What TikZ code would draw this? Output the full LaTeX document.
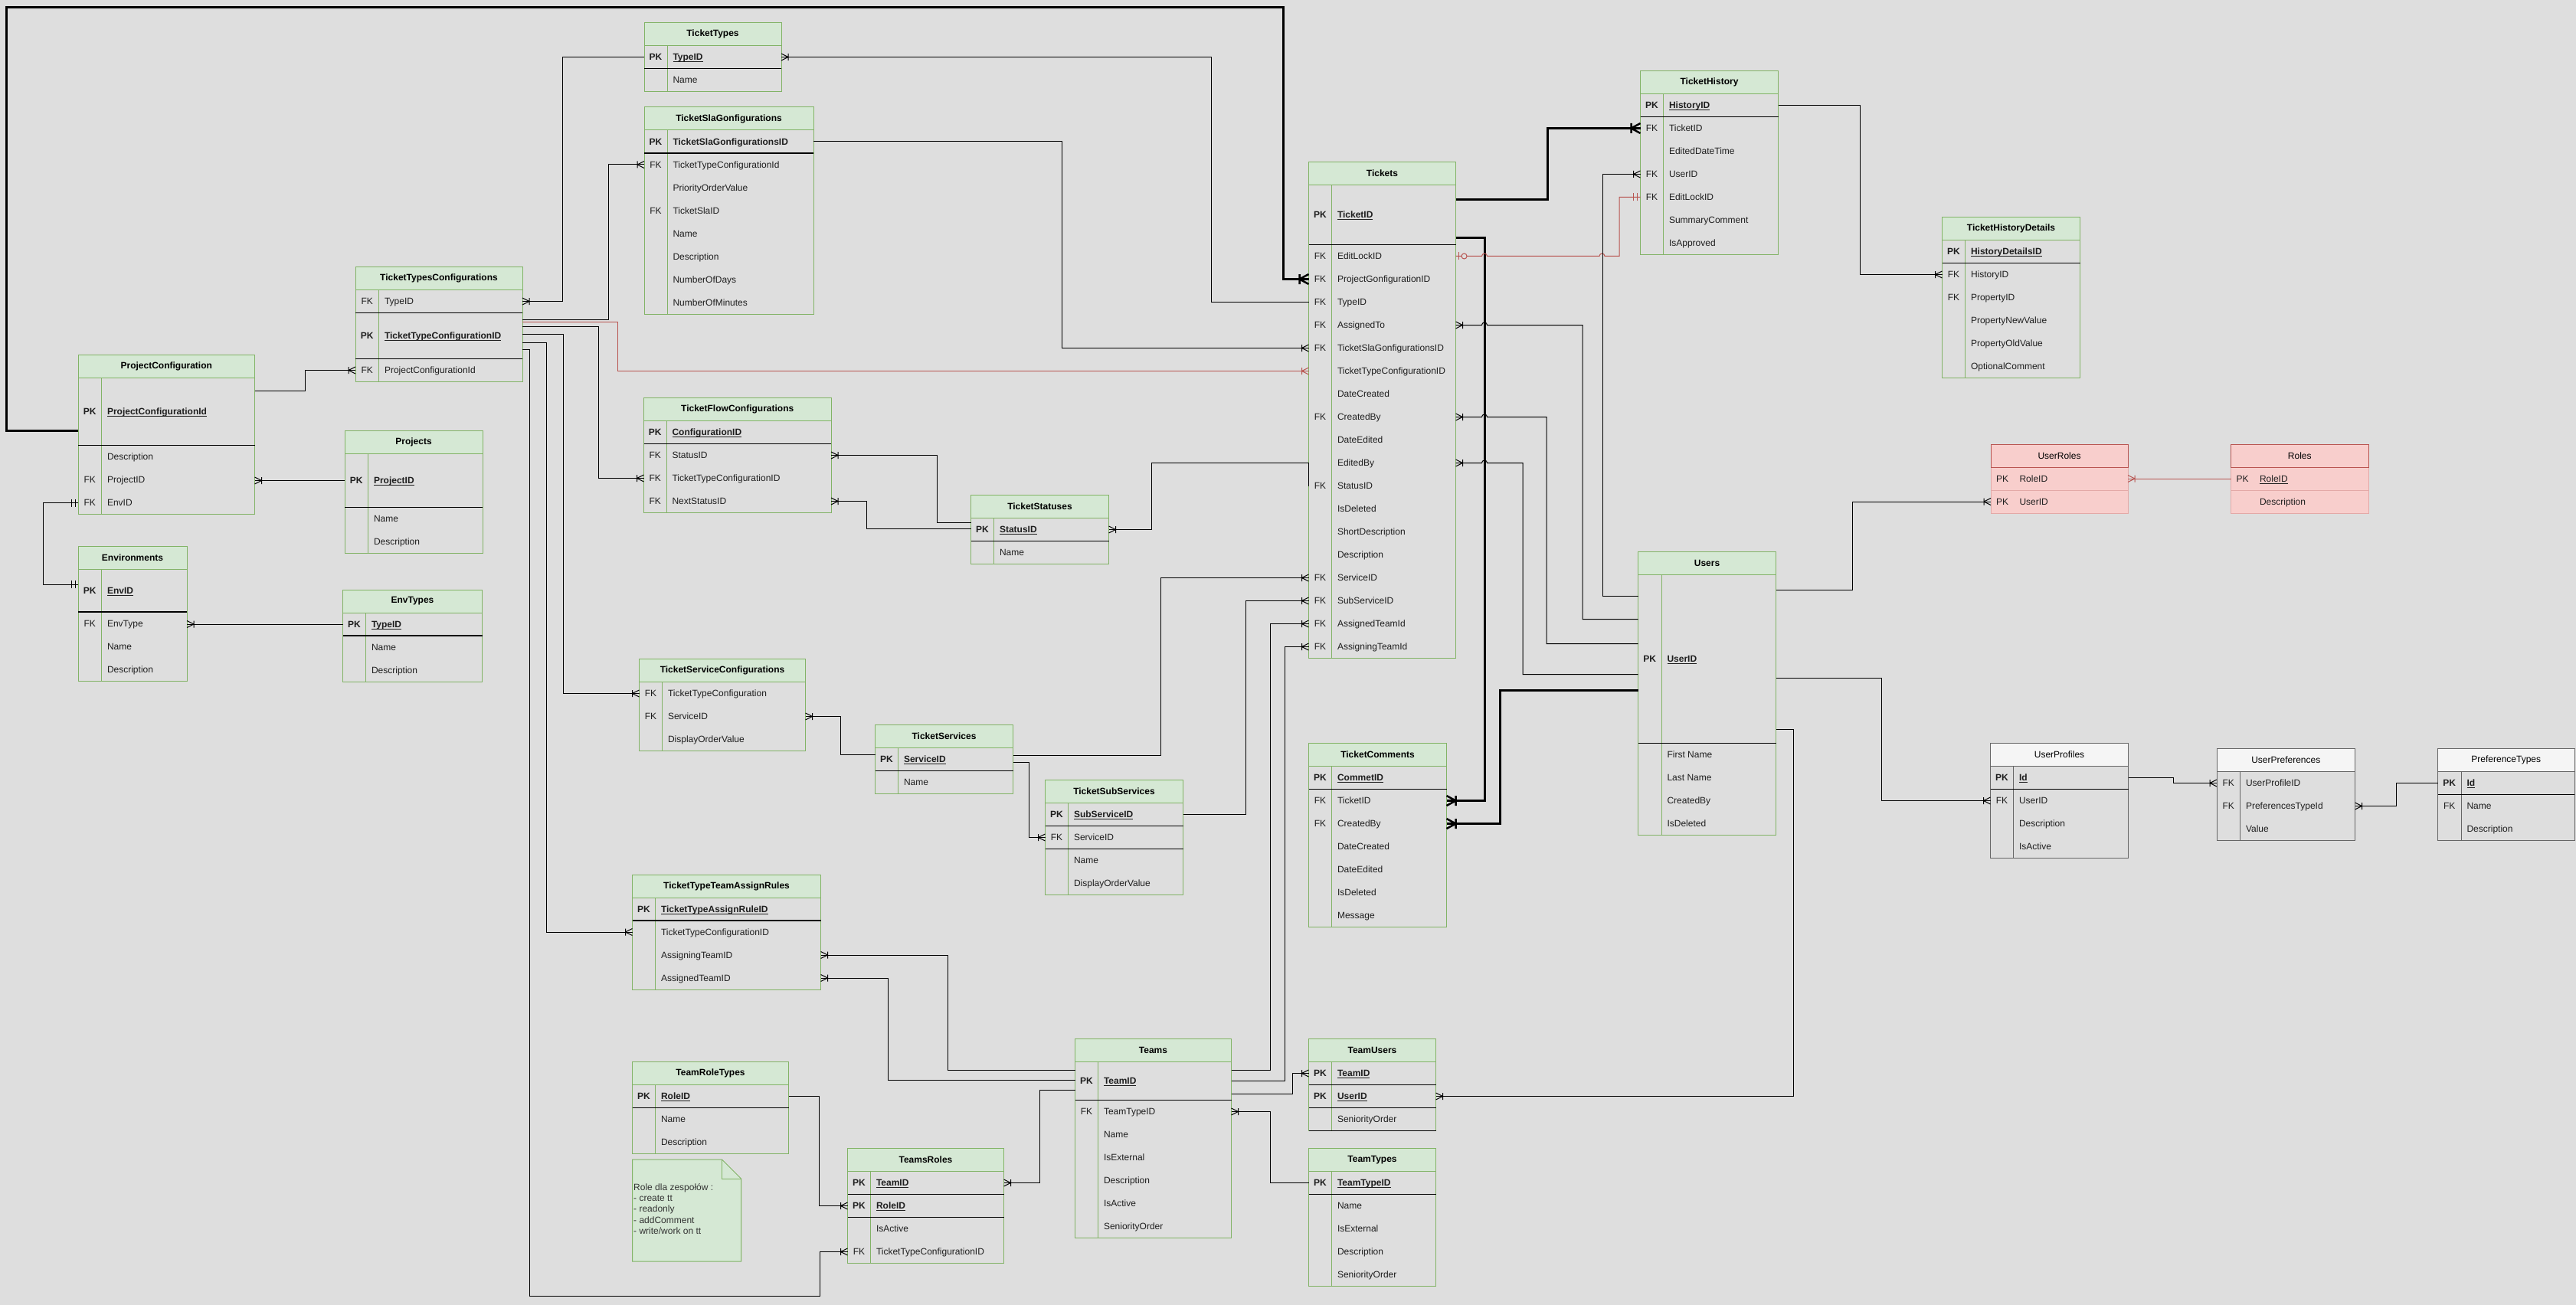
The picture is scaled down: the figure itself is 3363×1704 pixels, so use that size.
\documentclass[tikz,border=0pt]{standalone}
\usepackage{fontspec}
\setmainfont{Liberation Sans}
\usetikzlibrary{calc,decorations.markings}

\definecolor{bg}{HTML}{DEDEDE}
\definecolor{gfill}{HTML}{D5E8D4}
\definecolor{gline}{HTML}{82B366}
\definecolor{rfill}{HTML}{F8CECC}
\definecolor{rline}{HTML}{B85450}
\definecolor{rsoft}{HTML}{E3A9A7}
\definecolor{wfill}{HTML}{F5F5F5}
\definecolor{wline}{HTML}{666666}
\definecolor{txt}{HTML}{1E1E1E}
\definecolor{notetxt}{HTML}{333333}
\colorlet{hd}{gfill}
\colorlet{ln}{gline}

\newcommand\rf{\fontsize{12pt}{14pt}\selectfont}
\def\tfont{\bfseries}
% underline drawn just below the baseline
\newcommand\uln[1]{\setbox0\hbox{#1}\rlap{\vrule width\wd0 height -1.3pt depth 2.1pt}\box0}

% connector end marks (local frame: entity edge at the origin, line arriving from -x)
\newcommand\crowmark[1]{\draw[#1] (-9pt,0pt) -- (0pt,4.5pt) (-9pt,0pt) -- (0pt,-4.5pt) (-9pt,-4.5pt) -- (-9pt,4.5pt);}
\newcommand\tcrowmark{\draw[black,line width=2.5pt] (-12pt,0pt) -- (0pt,6.5pt) (-12pt,0pt) -- (0pt,-6.5pt) (-12pt,-6.5pt) -- (-12pt,6.5pt);}
\newcommand\barsmark[1]{\draw[#1] (-4pt,-5pt) -- (-4pt,5pt) (-9pt,-5pt) -- (-9pt,5pt);}
\newcommand\zomark{\draw[rline,line width=1pt] (-4pt,-5pt) -- (-4pt,5pt);\draw[rline,fill=bg,line width=1pt] (-11pt,0pt) circle[radius=3.5pt];}

\tikzset{
  bodybox/.style={draw=ln, line width=1pt, rectangle, inner sep=0pt, outer sep=0pt, anchor=north west},
  titlebox/.style={draw=ln, fill=hd, line width=1pt, rectangle, inner sep=0pt, outer sep=0pt,
    anchor=north west, minimum height=30pt, font=\rf\tfont, text=black},
  rbody/.style={draw=rsoft, fill=rfill, line width=1pt, rectangle, inner sep=0pt, outer sep=0pt, anchor=north west},
  rtitle/.style={draw=rline, fill=rfill, line width=1pt, rectangle, inner sep=0pt, outer sep=0pt,
    anchor=north west, minimum height=30pt, font=\rf, text=black},
  rowbox/.style={rectangle, inner sep=0pt, outer sep=0pt, anchor=north west},
  cell/.style={inner sep=0pt, outer sep=0pt, font=\rf, text=txt, text height=9pt, text depth=0.5pt},
  divline/.style={draw=ln, line width=1pt},
  sepline/.style={draw=black, line width=1.2pt},
  softline/.style={draw=rsoft, line width=1pt},
  conn/.style={draw=black, line width=1pt},
  rconn/.style={draw=rline, line width=1pt},
  tconn/.style={draw=black, line width=3pt},
  crow end/.style={postaction={decorate,decoration={markings,mark=at position 1 with {\crowmark{#1}}}}},
  crow end/.default={black,line width=1pt},
  crow start/.style={postaction={decorate,decoration={markings,mark=at position 0 with {\begin{scope}[xscale=-1]\crowmark{#1}\end{scope}}}}},
  crow start/.default={black,line width=1pt},
  tcrow end/.style={postaction={decorate,decoration={markings,mark=at position 1 with {\tcrowmark}}}},
  bars end/.style={postaction={decorate,decoration={markings,mark=at position 1 with {\barsmark{#1}}}}},
  bars end/.default={black,line width=1pt},
  bars start/.style={postaction={decorate,decoration={markings,mark=at position 0 with {\begin{scope}[xscale=-1]\barsmark{#1}\end{scope}}}}},
  bars start/.default={black,line width=1pt},
  zo start/.style={postaction={decorate,decoration={markings,mark=at position 0 with {\begin{scope}[xscale=-1]\zomark\end{scope}}}}},
}

% table: name, x, y, width, key column width, height, title
\newcommand\etable[7]{%
  \def\tx{#2}\def\tw{#4}\def\tk{#5}\pgfmathsetmacro\ry{#3+30}%
  \node[bodybox, minimum width=#4pt, minimum height=#6pt] (#1) at (#2,#3) {};
  \node[titlebox, minimum width=#4pt] (#1-t) at (#2,#3) {#7};
  \draw[divline] ([xshift=#5pt]#1-t.south west) -- ([xshift=#5pt]#1.south west);
}
% pink table without key divider: name, x, y, width, height, title
\newcommand\rtable[6]{%
  \def\tx{#2}\def\tw{#4}\def\tk{30}\pgfmathsetmacro\ry{#3+30}%
  \node[rbody, minimum width=#4pt, minimum height=#5pt] (#1) at (#2,#3) {};
  \node[rtitle, minimum width=#4pt] (#1-t) at (#2,#3) {#6};
}
% row: name, height, key, field
\newcommand\addrow[4]{%
  \node[rowbox, minimum width=\tw pt, minimum height=#2pt] (#1) at (\tx,\ry) {};
  \node[cell] at ([xshift=\tk pt*0.5]#1.west) {#3};
  \node[cell, anchor=west] at ([xshift=\tk pt+7.5pt]#1.west) {#4};
  \pgfmathsetmacro\ry{\ry+#2}%
}
\newcommand\rsep[1]{\draw[sepline] (#1.south west) -- (#1.south east);}
\newcommand\softsep[1]{\draw[softline] (#1.south west) -- (#1.south east);}
\newcommand\rw[3]{\addrow{#1}{30}{#2}{#3}}
\newcommand\pk[3][30]{\addrow{#2}{#1}{\textbf{PK}}{\textbf{\uln{#3}}}\rsep{#2}}

\begin{document}
\begin{tikzpicture}[x=1pt,y=-1pt]
\useasboundingbox (0,0) rectangle (3363,1704);
\fill[bg] (0,0) rectangle (3363,1704);

% ---------------- tables ----------------
\etable{tt}{841}{29.5}{179}{30}{90}{TicketTypes}
\pk{tt-id}{TypeID}
\rw{tt-name}{}{Name}

\etable{tsc}{841}{140}{221}{30}{270}{TicketSlaGonfigurations}
\addrow{tsc-id}{30}{\textbf{PK}}{\textbf{TicketSlaGonfigurationsID}}\rsep{tsc-id}
\rw{tsc-ttc}{FK}{TicketTypeConfigurationId}
\rw{tsc-prio}{}{PriorityOrderValue}
\rw{tsc-sla}{FK}{TicketSlaID}
\rw{tsc-name}{}{Name}
\rw{tsc-desc}{}{Description}
\rw{tsc-days}{}{NumberOfDays}
\rw{tsc-min}{}{NumberOfMinutes}

\etable{ttc}{464}{348.5}{218}{30.5}{150}{TicketTypesConfigurations}
\rw{ttc-type}{FK}{TypeID}\rsep{ttc-type}
\pk[60]{ttc-id}{TicketTypeConfigurationID}
\rw{ttc-pc}{FK}{ProjectConfigurationId}

\etable{pc}{102}{463.5}{230.5}{30.5}{208}{ProjectConfiguration}
\pk[88]{pc-id}{ProjectConfigurationId}
\rw{pc-desc}{}{Description}
\rw{pc-proj}{FK}{ProjectID}
\rw{pc-env}{FK}{EnvID}

\etable{pr}{450}{562.5}{180}{30.5}{160}{Projects}
\pk[70]{pr-id}{ProjectID}
\rw{pr-name}{}{Name}
\rw{pr-desc}{}{Description}

\etable{env}{102}{713}{142}{30.5}{176}{Environments}
\pk[56]{env-id}{EnvID}
\rw{env-type}{FK}{EnvType}
\rw{env-name}{}{Name}
\rw{env-desc}{}{Description}

\etable{et}{447.5}{770}{182}{30}{120}{EnvTypes}
\pk{et-id}{TypeID}
\rw{et-name}{}{Name}
\rw{et-desc}{}{Description}

\etable{tfc}{840.5}{519.5}{244.5}{29.5}{150}{TicketFlowConfigurations}
\pk{tfc-id}{ConfigurationID}
\rw{tfc-status}{FK}{StatusID}
\rw{tfc-ttc}{FK}{TicketTypeConfigurationID}
\rw{tfc-next}{FK}{NextStatusID}

\etable{ts}{1267.5}{646.5}{180}{30}{90}{TicketStatuses}
\pk{ts-id}{StatusID}
\rw{ts-name}{}{Name}

\etable{tsv}{834.5}{860.5}{217}{30}{120}{TicketServiceConfigurations}
\rw{tsv-ttc}{FK}{TicketTypeConfiguration}
\rw{tsv-svc}{FK}{ServiceID}
\rw{tsv-order}{}{DisplayOrderValue}

\etable{svc}{1142.5}{946.5}{180}{30}{90}{TicketServices}
\pk{svc-id}{ServiceID}
\rw{svc-name}{}{Name}

\etable{sub}{1364.5}{1018.5}{180}{30}{150}{TicketSubServices}
\pk{sub-id}{SubServiceID}
\rw{sub-svc}{FK}{ServiceID}\rsep{sub-svc}
\rw{sub-name}{}{Name}
\rw{sub-order}{}{DisplayOrderValue}

\etable{ar}{825.5}{1142}{246}{30}{150}{TicketTypeTeamAssignRules}
\pk{ar-id}{TicketTypeAssignRuleID}
\rw{ar-ttc}{}{TicketTypeConfigurationID}
\rw{ar-asg}{}{AssigningTeamID}
\rw{ar-asd}{}{AssignedTeamID}

\etable{trt}{825.5}{1386.5}{204}{30}{120}{TeamRoleTypes}
\pk{trt-id}{RoleID}
\rw{trt-name}{}{Name}
\rw{trt-desc}{}{Description}

\etable{tr}{1106.5}{1499.5}{204}{30}{150}{TeamsRoles}
\pk{tr-team}{TeamID}
\pk{tr-role}{RoleID}
\rw{tr-active}{}{IsActive}
\rw{tr-ttc}{FK}{TicketTypeConfigurationID}

\etable{tm}{1403.5}{1356.5}{204}{30}{260}{Teams}
\pk[50]{tm-id}{TeamID}
\rw{tm-type}{FK}{TeamTypeID}
\rw{tm-name}{}{Name}
\rw{tm-ext}{}{IsExternal}
\rw{tm-desc}{}{Description}
\rw{tm-active}{}{IsActive}
\rw{tm-sen}{}{SeniorityOrder}

\etable{tu}{1708.5}{1356.5}{166}{30}{120}{TeamUsers}
\pk{tu-team}{TeamID}
\pk{tu-user}{UserID}
\rw{tu-sen}{}{SeniorityOrder}\rsep{tu-sen}

\etable{ty}{1708.5}{1499.5}{166}{30}{180}{TeamTypes}
\pk{ty-id}{TeamTypeID}
\rw{ty-name}{}{Name}
\rw{ty-ext}{}{IsExternal}
\rw{ty-desc}{}{Description}
\rw{ty-sen}{}{SeniorityOrder}

\etable{tk}{1708.5}{211.5}{192}{30}{648}{Tickets}
\pk[78]{tk-id}{TicketID}
\rw{tk-lock}{FK}{EditLockID}
\rw{tk-pc}{FK}{ProjectGonfigurationID}
\rw{tk-type}{FK}{TypeID}
\rw{tk-asg}{FK}{AssignedTo}
\rw{tk-sla}{FK}{TicketSlaGonfigurationsID}
\rw{tk-ttc}{}{TicketTypeConfigurationID}
\rw{tk-dc}{}{DateCreated}
\rw{tk-cb}{FK}{CreatedBy}
\rw{tk-de}{}{DateEdited}
\rw{tk-eb}{}{EditedBy}
\rw{tk-status}{FK}{StatusID}
\rw{tk-del}{}{IsDeleted}
\rw{tk-short}{}{ShortDescription}
\rw{tk-desc}{}{Description}
\rw{tk-svc}{FK}{ServiceID}
\rw{tk-sub}{FK}{SubServiceID}
\rw{tk-asd}{FK}{AssignedTeamId}
\rw{tk-asn}{FK}{AssigningTeamId}

\etable{tc}{1708.5}{970.5}{180}{30}{240}{TicketComments}
\pk{tc-id}{CommetID}
\rw{tc-tk}{FK}{TicketID}
\rw{tc-cb}{FK}{CreatedBy}
\rw{tc-dc}{}{DateCreated}
\rw{tc-de}{}{DateEdited}
\rw{tc-del}{}{IsDeleted}
\rw{tc-msg}{}{Message}

\etable{th}{2141.5}{92.5}{180}{30}{240}{TicketHistory}
\pk{th-id}{HistoryID}
\rw{th-tk}{FK}{TicketID}
\rw{th-edt}{}{EditedDateTime}
\rw{th-user}{FK}{UserID}
\rw{th-lock}{FK}{EditLockID}
\rw{th-sum}{}{SummaryComment}
\rw{th-appr}{}{IsApproved}

\etable{thd}{2535.5}{283.5}{180}{30}{210}{TicketHistoryDetails}
\pk{thd-id}{HistoryDetailsID}
\rw{thd-hist}{FK}{HistoryID}
\rw{thd-prop}{FK}{PropertyID}
\rw{thd-new}{}{PropertyNewValue}
\rw{thd-old}{}{PropertyOldValue}
\rw{thd-com}{}{OptionalComment}

\etable{us}{2138.5}{720.5}{180}{30.5}{370}{Users}
\pk[220]{us-id}{UserID}
\rw{us-fn}{}{First Name}
\rw{us-ln}{}{Last Name}
\rw{us-cb}{}{CreatedBy}
\rw{us-del}{}{IsDeleted}

% pink role tables
\rtable{ur}{2599}{580}{179}{90}{UserRoles}
\addrow{ur-role}{30}{PK}{RoleID}\softsep{ur-role}
\addrow{ur-user}{30}{PK}{UserID}
\rtable{ro}{2912.5}{580}{179.5}{90}{Roles}
\addrow{ro-id}{30}{PK}{\uln{RoleID}}\softsep{ro-id}
\rw{ro-desc}{}{Description}

% grey profile tables
\colorlet{hd}{wfill}\colorlet{ln}{wline}\def\tfont{}
\etable{up}{2598.5}{970.5}{180}{30}{150}{UserProfiles}
\pk{up-id}{Id}
\rw{up-user}{FK}{UserID}
\rw{up-desc}{}{Description}
\rw{up-active}{}{IsActive}

\etable{upr}{2894}{977.5}{180.5}{30.5}{120}{UserPreferences}
\rw{upr-prof}{FK}{UserProfileID}
\rw{upr-type}{FK}{PreferencesTypeId}
\rw{upr-val}{}{Value}

\etable{pt}{3182.5}{977.5}{178.5}{30.5}{120}{PreferenceTypes}
\pk{pt-id}{Id}
\rw{pt-name}{FK}{Name}
\rw{pt-desc}{}{Description}

% note with folded corner
\draw[draw=gline, fill=gfill, line width=1pt] (825.5,1514) -- (942.5,1514) -- (967.5,1539) -- (967.5,1647) -- (825.5,1647) -- cycle;
\draw[draw=gline, line width=1pt] (942.5,1514) -- (942.5,1539) -- (967.5,1539);
\node[anchor=north west, inner sep=0pt, align=left, text=notetxt,
  font=\fontsize{12pt}{14.2pt}\selectfont] (note) at (827,1545.5)
  {Role dla zespołów :\\- create tt\\- readonly\\- addComment\\- write/work on tt};

% ---------------- routing guides ----------------
\foreach \v in {8,56,398,691,713,734,735,781,794,806,1069,1097,1131,1159,1223,1237,1343,1357,1386,1503,1515,1581,1626,1658,1675,1677,1687,1938,1958,1988,2019,2020,2066,2092,2114,2341,2418,2428,2456,2837,3128}
  {\coordinate (vx\v) at (\v,0);}
\coordinate (hop) at (1934.5,0);
\coordinate (hop2) at (2088,0);
\coordinate (hy10) at (0,10);
\coordinate (bend1) at (691,1692);
\coordinate (bend2) at (1070,1692);

\coordinate (ttc-o1) at ($(ttc-id.east)+(0,-21.5)$);
\coordinate (ttc-o2) at ($(ttc-id.east)+(0,-18.5)$);
\coordinate (ttc-o3) at ($(ttc-id.east)+(0,-12.5)$);
\coordinate (ttc-o4) at ($(ttc-id.east)+(0,-2)$);
\coordinate (ttc-o5) at ($(ttc-id.east)+(0,8.5)$);
\coordinate (ttc-o6) at ($(ttc-id.east)+(0,17.5)$);
\coordinate (pc-o1) at ($(pc-id.east)+(0,-27)$);
\coordinate (pc-o2) at ($(pc-id.west)+(0,25)$);
\coordinate (env-o) at ($(env-id.west)+(0,-8)$);
\coordinate (ts-o1) at ($(ts-id.west)+(0,-9.5)$);
\coordinate (ts-o2) at ($(ts-id.west)+(0,-1.5)$);
\coordinate (svc-o1) at ($(svc-id.west)+(0,-6.5)$);
\coordinate (svc-o2) at ($(svc-id.east)+(0,-5.5)$);
\coordinate (svc-o3) at ($(svc-id.east)+(0,4)$);
\coordinate (tm-o1) at ($(tm-id.west)+(0,-14.5)$);
\coordinate (tm-o2) at ($(tm-id.west)+(0,-1.5)$);
\coordinate (tm-o3) at ($(tm-id.west)+(0,11.5)$);
\coordinate (tm-o4) at ($(tm-id.east)+(0,-14.5)$);
\coordinate (tm-o5) at ($(tm-id.east)+(0,16.5)$);
\coordinate (tk-o1) at ($(tk-id.east)+(0,-20)$);
\coordinate (tk-o2) at ($(tk-id.east)+(0,30)$);
\coordinate (us-o1) at ($(us-id.east)+(0,92)$);
\coordinate (us-o2) at ($(us-id.west)+(0,40.5)$);
\coordinate (us-o3) at ($(us-id.west)+(0,-82.5)$);
\coordinate (us-o4) at ($(us-id.west)+(0,-52)$);
\coordinate (us-o5) at ($(us-id.west)+(0,-20)$);
\coordinate (us-o6) at ($(us-id.west)+(0,20)$);
\coordinate (us-o7) at ($(us-id.east)+(0,-90.5)$);
\coordinate (us-o8) at ($(us-id.east)+(0,25)$);

% ---------------- relationships ----------------
\draw[conn, crow end] (tt-id.west) -- (tt-id.west -| vx734) -- (ttc-type.east -| vx734) -- (ttc-type.east);
\draw[conn, crow end] (tk-type.west) -- (tk-type.west -| vx1581) -- (tt-id.east -| vx1581) -- (tt-id.east);
\draw[conn, crow end] (tsc-id.east) -- (tsc-id.east -| vx1386) -- (tk-sla.west -| vx1386) -- (tk-sla.west);

\draw[conn, crow end] (ttc-o1) -- (ttc-o1 -| vx794) -- (tsc-ttc.west -| vx794) -- (tsc-ttc.west);
\draw[rconn, crow end={rline,line width=1pt}] (ttc-o2) -- (ttc-o2 -| vx806) -- (tk-ttc.west -| vx806) -- (tk-ttc.west);
\draw[conn, crow end] (ttc-o3) -- (ttc-o3 -| vx781) -- (tfc-ttc.west -| vx781) -- (tfc-ttc.west);
\draw[conn, crow end] (ttc-o4) -- (ttc-o4 -| vx735) -- (tsv-ttc.west -| vx735) -- (tsv-ttc.west);
\draw[conn, crow end] (ttc-o5) -- (ttc-o5 -| vx713) -- (ar-ttc.west -| vx713) -- (ar-ttc.west);
\draw[conn, crow end] (ttc-o6) -- (ttc-o6 -| vx691) -- (bend1) -- (bend2) -- (tr-ttc.west -| bend2) -- (tr-ttc.west);

\draw[conn, crow end] (pc-o1) -- (pc-o1 -| vx398) -- (ttc-pc.west -| vx398) -- (ttc-pc.west);
\draw[conn, crow end] (pr-id.west) -- (pr-id.west -| pc-proj.east);
\draw[conn, bars start, bars end] (pc-env.west) -- (pc-env.west -| vx56) -- (env-o -| vx56) -- (env-o);
\draw[tconn, tcrow end] (pc-o2) -- (pc-o2 -| vx8) -- (vx8 |- hy10) -- (vx1675 |- hy10) -- (tk-pc.west -| vx1675) -- (tk-pc.west);
\draw[conn, crow end] (et-id.west) -- (et-id.west -| env-type.east);

\draw[conn, crow end] (ts-o1) -- (ts-o1 -| vx1223) -- (tfc-status.east -| vx1223) -- (tfc-status.east);
\draw[conn, crow end] (ts-o2) -- (ts-o2 -| vx1131) -- (tfc-next.east -| vx1131) -- (tfc-next.east);
\draw[conn, crow end] (tk-status.west) -- (tk-eb.west) -- (tk-eb.west -| vx1503) -- (ts-id.east -| vx1503) -- (ts-id.east);

\draw[conn, crow end] (svc-o1) -- (svc-o1 -| vx1097) -- (tsv-svc.east -| vx1097) -- (tsv-svc.east);
\draw[conn, crow end] (svc-o2) -- (svc-o2 -| vx1515) -- (tk-svc.west -| vx1515) -- (tk-svc.west);
\draw[conn, crow end] (svc-o3) -- (svc-o3 -| vx1343) -- (sub-svc.west -| vx1343) -- (sub-svc.west);
\draw[conn, crow end] (sub-id.east) -- (sub-id.east -| vx1626) -- (tk-sub.west -| vx1626) -- (tk-sub.west);

\draw[conn, crow end] (tm-o1) -- (tm-o1 -| vx1237) -- (ar-asg.east -| vx1237) -- (ar-asg.east);
\draw[conn, crow end] (tm-o2) -- (tm-o2 -| vx1159) -- (ar-asd.east -| vx1159) -- (ar-asd.east);
\draw[conn, crow end] (tm-o3) -- (tm-o3 -| vx1357) -- (tr-team.east -| vx1357) -- (tr-team.east);
\draw[conn, crow end] (trt-id.east) -- (trt-id.east -| vx1069) -- (tr-role.west -| vx1069) -- (tr-role.west);
\draw[conn, crow end] (tm-o4) -- (tm-o4 -| vx1658) -- (tk-asd.west -| vx1658) -- (tk-asd.west);
\draw[conn, crow end] (tm-id.east) -- (tm-id.east -| vx1677) -- (tk-asn.west -| vx1677) -- (tk-asn.west);
\draw[conn, crow end] (tm-o5) -- (tm-o5 -| vx1687) -- (tu-team.west -| vx1687) -- (tu-team.west);
\draw[conn, crow end] (ty-id.west) -- (ty-id.west -| vx1658) -- (tm-type.east -| vx1658) -- (tm-type.east);
\draw[conn, crow end] (us-o1) -- (us-o1 -| vx2341) -- (tu-user.east -| vx2341) -- (tu-user.east);

\draw[tconn, tcrow end] (tk-o1) -- (tk-o1 -| vx2020) -- (th-tk.west -| vx2020) -- (th-tk.west);
\draw[tconn, tcrow end] (tk-o2) -- (tk-o2 -| vx1938) -- (tc-tk.east -| vx1938) -- (tc-tk.east);
\draw[tconn, tcrow end] (us-o2) -- (us-o2 -| vx1958) -- (tc-cb.east -| vx1958) -- (tc-cb.east);

\draw[rconn, zo start, bars end={rline,line width=1pt}] (tk-lock.east) -- (tk-lock.east -| hop)
  arc[start angle=180, end angle=360, radius=3.5] -- (tk-lock.east -| hop2)
  arc[start angle=180, end angle=360, radius=3.5] -- (tk-lock.east -| vx2114) -- (th-lock.west -| vx2114) -- (th-lock.west);
\draw[conn, crow end] (us-o3) -- (us-o3 -| vx2092) -- (th-user.west -| vx2092) -- (th-user.west);
\draw[conn, crow start] (tk-asg.east) -- (tk-asg.east -| hop)
  arc[start angle=180, end angle=360, radius=3.5] -- (tk-asg.east -| vx2066) -- (us-o4 -| vx2066) -- (us-o4);
\draw[conn, crow start] (tk-cb.east) -- (tk-cb.east -| hop)
  arc[start angle=180, end angle=360, radius=3.5] -- (tk-cb.east -| vx2019) -- (us-o5 -| vx2019) -- (us-o5);
\draw[conn, crow start] (tk-eb.east) -- (tk-eb.east -| hop)
  arc[start angle=180, end angle=360, radius=3.5] -- (tk-eb.east -| vx1988) -- (us-o6 -| vx1988) -- (us-o6);

\draw[conn, crow end] (th-id.east) -- (th-id.east -| vx2428) -- (thd-hist.west -| vx2428) -- (thd-hist.west);
\draw[conn, crow end] (us-o7) -- (us-o7 -| vx2418) -- (ur-user.west -| vx2418) -- (ur-user.west);
\draw[conn, crow end] (us-o8) -- (us-o8 -| vx2456) -- (up-user.west -| vx2456) -- (up-user.west);
\draw[rconn, crow end={rline,line width=1pt}] (ro-id.west) -- (ur-role.east);
\draw[conn, crow end] (up-id.east) -- (up-id.east -| vx2837) -- (upr-prof.west -| vx2837) -- (upr-prof.west);
\draw[conn, crow end] (pt-id.west) -- (pt-id.west -| vx3128) -- (upr-type.east -| vx3128) -- (upr-type.east);

\end{tikzpicture}
\end{document}
